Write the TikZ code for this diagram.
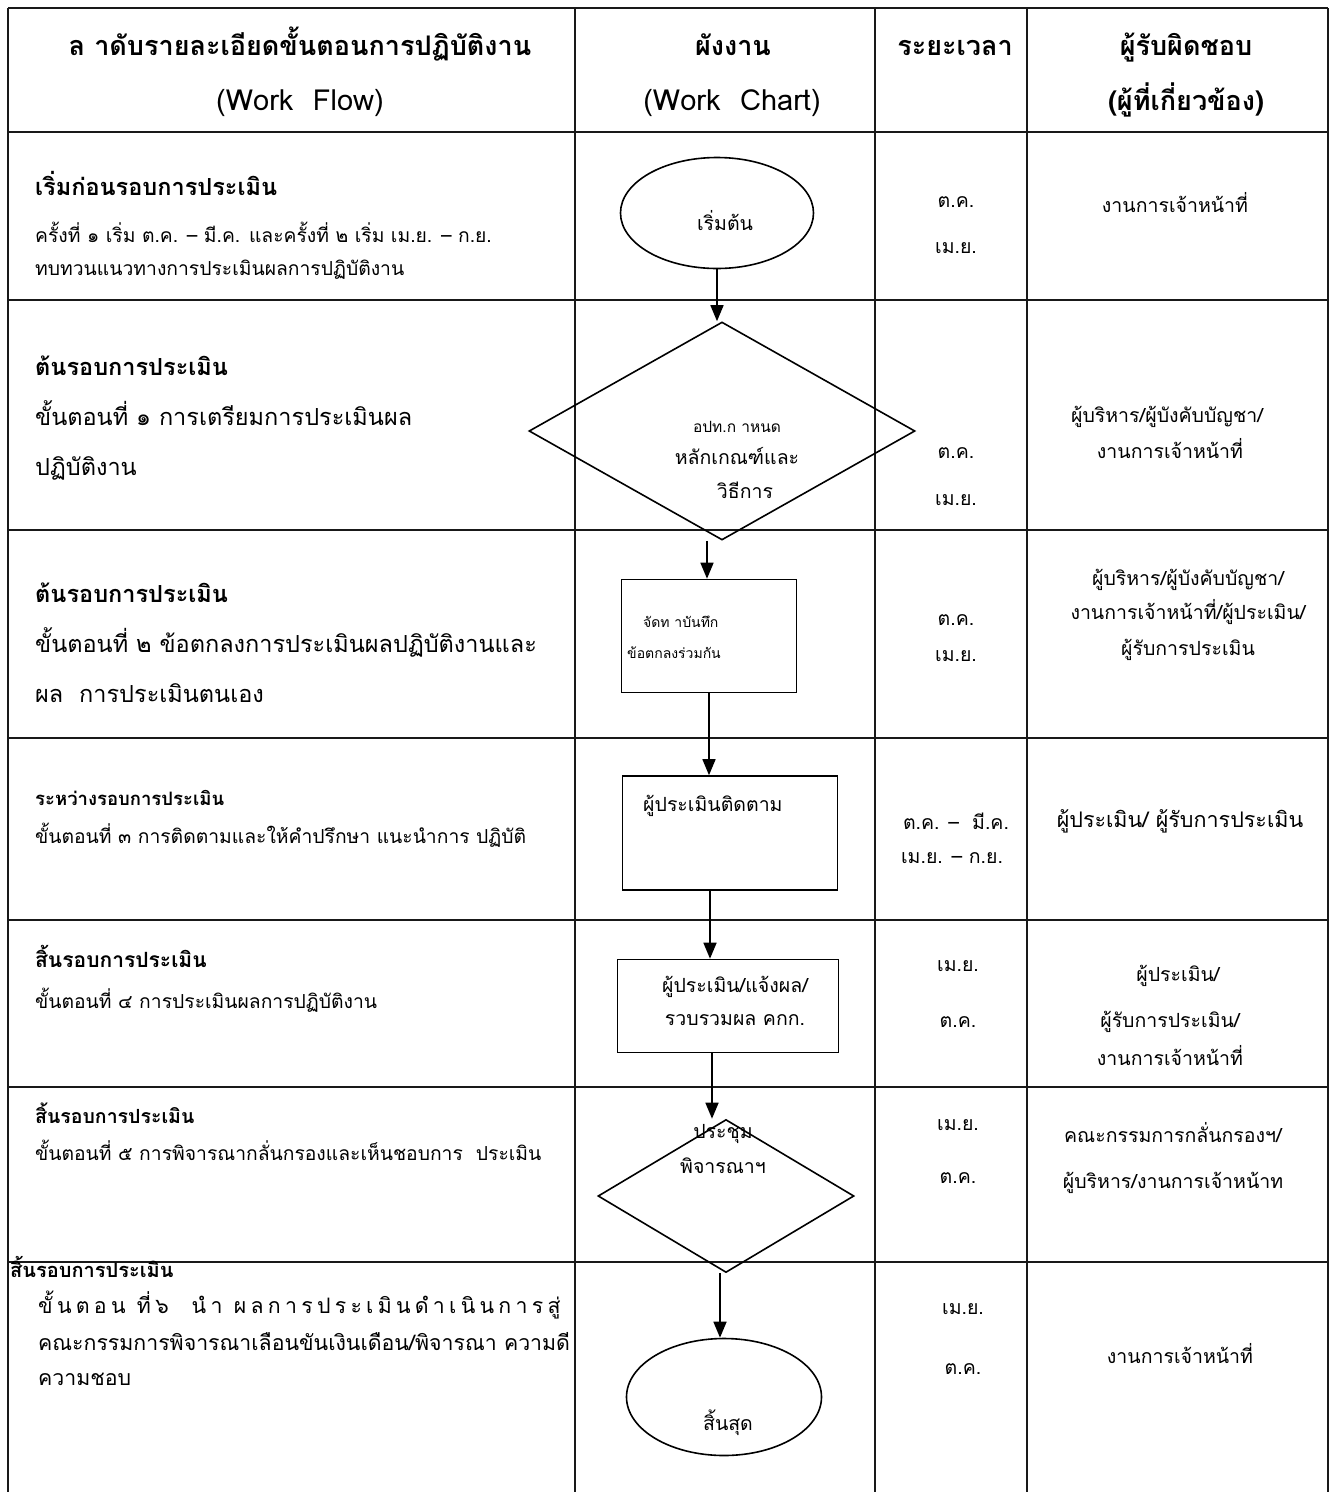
\documentclass[tikz,border=0pt]{standalone}
\usepackage{fontspec}
\setmainfont{Loma}[Script=Thai]
\usetikzlibrary{arrows.meta,positioning,shapes.geometric}
\newcommand{\fs}[1]{\fontsize{#1}{#1}\selectfont}
\tikzset{
  rule/.style={line width=2pt,draw=black!90},
  cell/.style={inner sep=0pt,text height=1em,text depth=0em},
  head/.style={cell,font=\fs{27}\bfseries},
  headsub/.style={cell,font=\fs{29}},
  title/.style={cell,anchor=west,font=\fs{23.5}\bfseries},
  titlesm/.style={cell,anchor=west,font=\fs{20}\bfseries},
  stepbig/.style={cell,anchor=west,font=\fs{23.5}},
  stepsm/.style={cell,anchor=west,font=\fs{19.3}},
  plain/.style={cell,font=\fs{19.5}},
  tiny/.style={cell,font=\fs{14}},
  term/.style={draw,ellipse,line width=1.6pt,inner sep=0pt},
  choice/.style={draw,diamond,line width=1.6pt,inner sep=0pt},
  proc/.style={draw,rectangle,line width=1.6pt,inner sep=0pt},
  arr/.style={-{Triangle[length=16pt,width=13pt]},line width=1.6pt}
}

\begin{document}
\begin{tikzpicture}[x=1pt,y=-1pt]
  \useasboundingbox (0,0) rectangle (1338,1492);
  \fill[white] (0,0) rectangle (1338,1492);
  % table rules
  \foreach \y in {8,132,300,530,738,920,1087,1262}
    \draw[rule] (8,\y) -- (1328,\y);
  \foreach \x in {8,575,875,1027,1328}
    \draw[rule] (\x,8) -- (\x,1492);

  % header
  \node[head] (h1) at (300,50) {ล าดับรายละเอียดขั้นตอนการปฏิบัติงาน};
  \node[headsub] (h1b) at (300,105) {(Work\ \ Flow)};
  \node[head] (h2) at (733,50) {ผังงาน};
  \node[headsub] (h2b) at (732,105) {(Work\ \ Chart)};
  \node[head] (h3) at (955,50) {ระยะเวลา};
  \node[head] (h4) at (1186,50) {ผู้รับผิดชอบ};
  \node[head] (h4b) at (1186,105) {(ผู้ที่เกี่ยวข้อง)};

  % work flow column
  \node[title] (s1) at (35,190) {เริ่มก่อนรอบการประเมิน};
  \node[stepsm] (s1a) at (35,237) {ครั้งที่ ๑ เริ่ม ต.ค. – มี.ค. และครั้งที่ ๒ เริ่ม เม.ย. – ก.ย.};
  \node[stepsm] (s1b) at (35,270) {ทบทวนแนวทางการประเมินผลการปฏิบัติงาน};
  \node[title] (s2) at (35,370) {ต้นรอบการประเมิน};
  \node[stepbig] (s2a) at (35,420) {ขั้นตอนที่ ๑ การเตรียมการประเมินผล};
  \node[stepbig] (s2b) at (35,470) {ปฏิบัติงาน};
  \node[title] (s3) at (35,597) {ต้นรอบการประเมิน};
  \node[stepbig] (s3a) at (35,647) {ขั้นตอนที่ ๒ ข้อตกลงการประเมินผลปฏิบัติงานและ};
  \node[stepbig] (s3b) at (35,697) {ผล\ \ การประเมินตนเอง};
  \node[titlesm,font=\fs{18.5}\bfseries] (s4) at (35,800) {ระหว่างรอบการประเมิน};
  \node[stepsm] (s4a) at (35,838) {ขั้นตอนที่ ๓ การติดตามและให้คำปรึกษา แนะนำการ ปฏิบัติ};
  \node[titlesm,font=\fs{21}\bfseries] (s5) at (35,962) {สิ้นรอบการประเมิน};
  \node[stepsm] (s5a) at (35,1003) {ขั้นตอนที่ ๔ การประเมินผลการปฏิบัติงาน};
  \node[titlesm,font=\fs{19.5}\bfseries] (s6) at (35,1118) {สิ้นรอบการประเมิน};
  \node[stepsm] (s6a) at (35,1155) {ขั้นตอนที่ ๕ การพิจารณากลั่นกรองและเห็นชอบการ\ \ ประเมิน};
  \node[titlesm] (s7) at (10,1272) {สิ้นรอบการประเมิน};
  \node[stepsm,font=\fs{21.3}\addfontfeature{LetterSpace=20}] (s7a) at (38,1308) {ขั้นตอน ที่๖\ \ นำ ผลการประเมินดำเนินการสู่};
  \node[stepsm,font=\fs{21.3}] (s7b) at (38,1345) {คณะกรรมการพิจารณาเลือนขันเงินเดือน/พิจารณา ความดี};
  \node[stepsm,font=\fs{21.3}] (s7c) at (38,1380) {ความชอบ};

  % work chart
  \node[term,minimum width=193pt,minimum height=111pt] (start) at (717,213) {};
  \node[plain] (startlbl) at (725,225) {เริ่มต้น};
  \node[choice,minimum width=386pt,minimum height=218pt] (d1) at (722,431) {};
  \node[tiny,font=\fs{15.5}] (d1a) at (737,427) {อปท.ก าหนด};
  \node[plain] (d1b) at (737,459) {หลักเกณฑ์และ};
  \node[plain] (d1c) at (745,493) {วิธีการ};
  \node[proc,minimum width=175pt,minimum height=113pt] (b1) at (709,636) {};
  \node[tiny,anchor=west] (b1a) at (643,622) {จัดท าบันทึก};
  \node[tiny,anchor=west] (b1b) at (627,653) {ข้อตกลงร่วมกัน};
  \node[proc,minimum width=215pt,minimum height=114pt] (b2) at (730,833) {};
  \node[plain,anchor=west] (b2a) at (643,806) {ผู้ประเมินติดตาม};
  \node[proc,minimum width=221pt,minimum height=93pt] (b3) at (728,1006) {};
  \node[plain] (b3a) at (735,987) {ผู้ประเมิน/แจ้งผล/};
  \node[plain] (b3b) at (735,1020) {รวบรวมผล คกก.};
  \node[choice,minimum width=256pt,minimum height=153pt] (d2) at (726,1196) {};
  \node[plain] (d2a) at (723,1133) {ประชุม};
  \node[plain] (d2b) at (723,1168) {พิจารณาฯ};
  \node[term,minimum width=195pt,minimum height=117pt] (stop) at (724,1397) {};
  \node[plain] (stoplbl) at (728,1425) {สิ้นสุด};

  \draw[arr] (start.south) -- (start.south |- d1.north);
  \draw[arr] ([xshift=-2pt]b1.north |- d1.south) -- ([xshift=-2pt]b1.north);
  \draw[arr] (b1.south) -- (b1.south |- b2.north);
  \draw[arr] ([xshift=-20pt]b2.south) -- ([xshift=-20pt]b2.south |- b3.north);
  \draw[arr] ([xshift=-16pt]b3.south) -- ([xshift=-16pt]b3.south |- d2.north);
  \draw[arr] ([xshift=-6pt]d2.south) -- ([xshift=-6pt]d2.south |- stop.north);

  % time column
  \node[plain] (t1a) at (956,202) {ต.ค.};
  \node[plain] (t1b) at (956,248) {เม.ย.};
  \node[plain] (t2a) at (956,453) {ต.ค.};
  \node[plain] (t2b) at (956,500) {เม.ย.};
  \node[plain] (t3a) at (956,620) {ต.ค.};
  \node[plain] (t3b) at (956,656) {เม.ย.};
  \node[plain] (t4a) at (956,824) {ต.ค. –\ \ มี.ค.};
  \node[plain] (t4b) at (952,858) {เม.ย. – ก.ย.};
  \node[plain] (t5a) at (958,966) {เม.ย.};
  \node[plain] (t5b) at (958,1022) {ต.ค.};
  \node[plain] (t6a) at (958,1125) {เม.ย.};
  \node[plain] (t6b) at (958,1178) {ต.ค.};
  \node[plain] (t7a) at (963,1309) {เม.ย.};
  \node[plain] (t7b) at (963,1369) {ต.ค.};

  % responsible column
  \node[plain] (r1) at (1175,207) {งานการเจ้าหน้าที่};
  \node[plain] (r2a) at (1167,417) {ผู้บริหาร/ผู้บังคับบัญชา/};
  \node[plain] (r2b) at (1170,453) {งานการเจ้าหน้าที่};
  \node[plain] (r3a) at (1188,580) {ผู้บริหาร/ผู้บังคับบัญชา/};
  \node[plain] (r3b) at (1188,614) {งานการเจ้าหน้าที่/ผู้ประเมิน/};
  \node[plain] (r3c) at (1188,650) {ผู้รับการประเมิน};
  \node[plain,font=\fs{21.5}] (r4) at (1180,822) {ผู้ประเมิน/ ผู้รับการประเมิน};
  \node[plain] (r5a) at (1178,976) {ผู้ประเมิน/};
  \node[plain] (r5b) at (1170,1022) {ผู้รับการประเมิน/};
  \node[plain] (r5c) at (1170,1060) {งานการเจ้าหน้าที่};
  \node[plain] (r6a) at (1173,1137) {คณะกรรมการกลั่นกรองฯ/};
  \node[plain] (r6b) at (1173,1183) {ผู้บริหาร/งานการเจ้าหน้าท};
  \node[plain] (r7) at (1180,1358) {งานการเจ้าหน้าที่};
\end{tikzpicture}
\end{document}
